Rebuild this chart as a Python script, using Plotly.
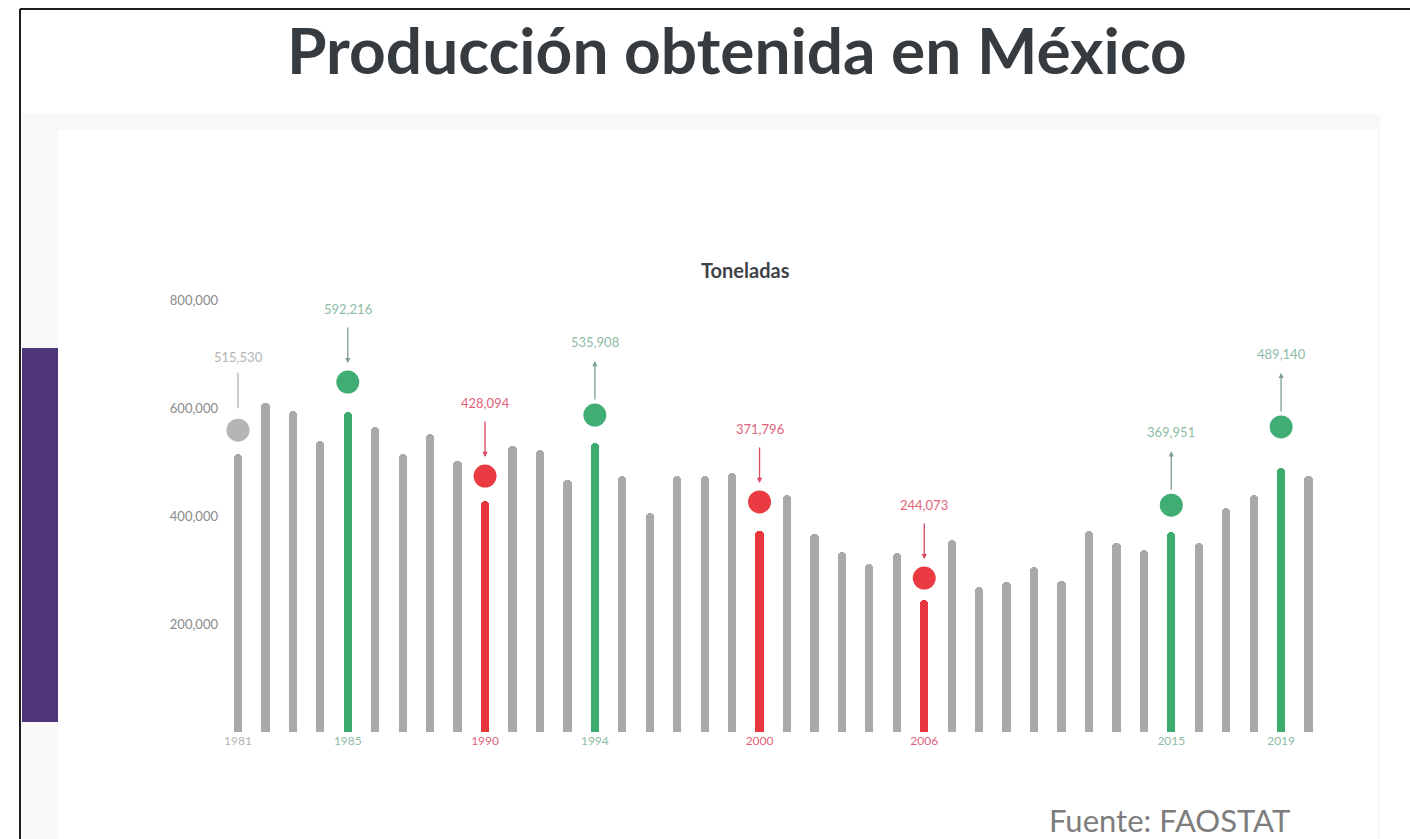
import plotly.graph_objects as go

# ---------------- data ----------------
years = list(range(1981, 2021))
production = [515530, 609000, 595000, 538000, 592216, 565000, 514000, 551000, 501000, 428094,
              530000, 523000, 467000, 535908, 475000, 406000, 474000, 475000, 479000, 371796,
              438000, 366000, 334000, 311000, 331000, 244073, 356000, 268000, 278000, 306000,
              280000, 372000, 350000, 337000, 369951, 350000, 415000, 439000, 489140, 475000]

highlight_years = [1981, 1985, 1990, 1994, 2000, 2006, 2015, 2019]
highlight_kind = ["neutral", "up", "down", "up", "down", "down", "up", "up"]
marker_values = [559000, 648000, 474000, 587000, 426000, 285000, 420000, 565000]
arrow_dir = ["line", "down", "down", "up", "down", "down", "up", "up"]

y_ticks = [200000, 400000, 600000, 800000]

title_text = "Producción obtenida en México"
subtitle_text = "Toneladas"
source_text = "Fuente: FAOSTAT"

# ---------------- styles ----------------
W, H = 1410, 839
ML, MR, MT, MB = 219, 74, 273, 107
BAR_COL = {"none": "#a9a9a9", "neutral": "#a9a9a9", "up": "#3dab6e", "down": "#e8363e"}
DOT_COL = {"neutral": "#b5b5b5", "up": "#40ae74", "down": "#ea3a42"}
LBL_COL = {"neutral": "#b3b3b3", "up": "#8dbba4", "down": "#e06479"}
ARW_COL = {"neutral": "#b3b3b3", "up": "#7e9e8e", "down": "#d9475f"}
FONT = "Lato"

kind_of = {y: k for y, k in zip(highlight_years, highlight_kind)}
bar_colors = [BAR_COL[kind_of.get(y, "none")] for y in years]

fig = go.Figure()
fig.add_trace(go.Bar(x=years, y=production, width=0.3,
                     marker=dict(color=bar_colors, cornerradius=4, line=dict(width=0)),
                     hoverinfo="x+y"))
fig.add_trace(go.Scatter(x=highlight_years, y=marker_values, mode="markers",
                         marker=dict(size=23, color=[DOT_COL[k] for k in highlight_kind]),
                         hoverinfo="skip"))

annotations = []
for yr, kind, mv, d in zip(highlight_years, highlight_kind, marker_values, arrow_dir):
    val = production[years.index(yr)]
    label = f"{val:,}"
    annotations.append(dict(x=yr, y=mv, xref="x", yref="y", text=label, showarrow=False,
                            yshift=73, font=dict(family=FONT, size=13, color=LBL_COL[kind])))
    if d == "up":
        annotations.append(dict(x=yr, y=mv, xref="x", yref="y", text="", showarrow=True,
                                yshift=54, ax=0, ay=40, arrowhead=2, arrowsize=0.8,
                                arrowwidth=1.3, arrowcolor=ARW_COL[kind]))
    else:
        annotations.append(dict(x=yr, y=mv, xref="x", yref="y", text="", showarrow=True,
                                yshift=19 if d == "down" else 22, ax=0, ay=-37,
                                arrowhead=0 if d == "line" else 2, arrowsize=0.8,
                                arrowwidth=1.3, arrowcolor=ARW_COL[kind]))

PW, PH = W - ML - MR, H - MT - MB


def px(xp):
    return (xp - ML) / PW


def py(yp):
    return (H - MB - yp) / PH


annotations += [
    dict(x=px(737), y=py(49), xref="paper", yref="paper", text=f"<b>{title_text}</b>",
         showarrow=False, xanchor="center", yanchor="middle",
         font=dict(family=FONT, size=64, color="#363b40")),
    dict(x=px(745), y=py(270), xref="paper", yref="paper", text=f"<b>{subtitle_text}</b>",
         showarrow=False, xanchor="center", yanchor="middle",
         font=dict(family=FONT, size=20, color="#3f4347")),
    dict(x=px(1169), y=py(820), xref="paper", yref="paper", text=source_text,
         showarrow=False, xanchor="center", yanchor="middle",
         font=dict(family=FONT, size=31, color="#7d7d7d")),
]

shapes = [
    # soft card shadow
    dict(type="rect", xref="paper", yref="paper", x0=px(22), x1=px(1380), y0=py(114), y1=py(839),
         fillcolor="#f8f8f9", line=dict(width=0), layer="below"),
    dict(type="rect", xref="paper", yref="paper", x0=px(58), x1=px(1378), y0=py(130), y1=py(839),
         fillcolor="#ffffff", line=dict(width=0), layer="below"),
    # purple accent
    dict(type="rect", xref="paper", yref="paper", x0=px(22), x1=px(58), y0=py(348), y1=py(722),
         fillcolor="#4f3579", line=dict(width=0), layer="below"),
    # black frame
    dict(type="line", xref="paper", yref="paper", x0=px(20), x1=px(1410), y0=py(9), y1=py(9),
         line=dict(color="#1e1e1e", width=2)),
    dict(type="line", xref="paper", yref="paper", x0=px(20), x1=px(20), y0=py(9), y1=py(839),
         line=dict(color="#1e1e1e", width=2)),
]

tick_text = [f'<span style="color:{LBL_COL[k]}">{y}</span>' for y, k in zip(highlight_years, highlight_kind)]

fig.update_layout(
    width=W, height=H,
    margin=dict(l=ML, r=MR, t=MT, b=MB),
    paper_bgcolor="#ffffff", plot_bgcolor="rgba(0,0,0,0)",
    showlegend=False, bargap=0,
    annotations=annotations, shapes=shapes,
    xaxis=dict(range=[1980.308, 2021.0], tickmode="array", tickvals=highlight_years, ticktext=tick_text,
               showgrid=False, zeroline=False, showline=False, ticks="",
               tickfont=dict(family=FONT, size=12, color="#b5b5b5"), fixedrange=True),
    yaxis=dict(range=[0, 850000], tickmode="array", tickvals=y_ticks,
               ticktext=[f"{v:,}" for v in y_ticks],
               showgrid=False, zeroline=False, showline=False, ticks="",
               tickfont=dict(family=FONT, size=13, color="#8a8a8a"), fixedrange=True),
)

fig.write_html("out.html")
